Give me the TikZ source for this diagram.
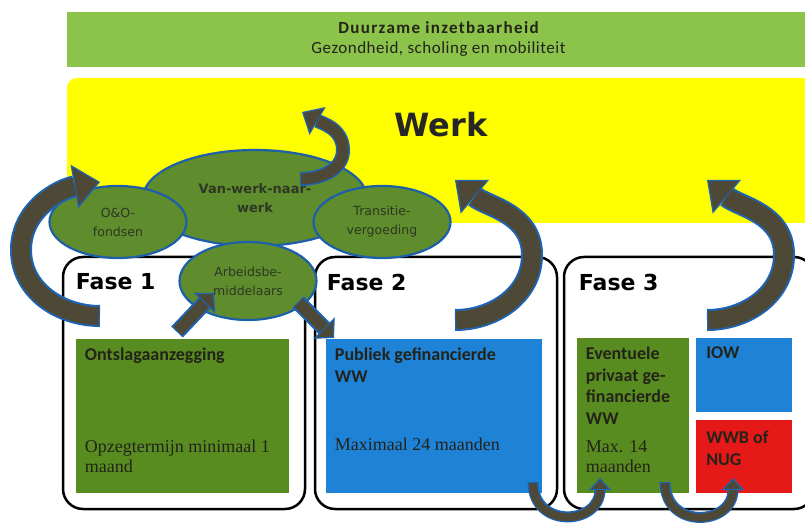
\documentclass[tikz,border=0pt]{standalone}
\usepackage{fontspec}
\setmainfont{Carlito}
\newfontfamily\wideface{DejaVu Sans}
\newfontfamily\serifface{Liberation Serif}
\usetikzlibrary{positioning,shapes.geometric,arrows.meta}
\definecolor{bandgreen}{RGB}{140,195,75}
\definecolor{werkyellow}{RGB}{255,255,0}
\definecolor{boxgreen}{RGB}{88,140,32}
\definecolor{boxblue}{RGB}{30,130,215}
\definecolor{boxred}{RGB}{230,25,25}
\definecolor{ellgreen}{RGB}{95,140,45}
\definecolor{ellblue}{RGB}{30,95,170}
\definecolor{elltext}{RGB}{45,55,35}
\definecolor{arrowblue}{RGB}{30,100,180}
\definecolor{arrowfill}{RGB}{78,72,54}
\definecolor{textdark}{RGB}{35,35,25}
\tikzset{
  fasebox/.style={draw=black, line width=2.5pt, rounded corners=20pt, minimum height=252pt, inner sep=0pt},
  fasetxt/.style={font=\wideface\bfseries\fontsize{22}{26}\selectfont, inner sep=0pt},
  fillbox/.style={inner sep=0pt, anchor=north west},
  boxtxt/.style={inner sep=0pt, align=left, text=textdark, font=\fontsize{18}{21.5}\selectfont\bfseries},
  durtxt/.style={inner sep=0pt, align=left, text=textdark, font=\serifface\fontsize{18}{20}\selectfont},
  ell/.style={ellipse, draw=ellblue, line width=2.2pt, fill=ellgreen, inner sep=0pt, align=center, text=elltext, font=\wideface\fontsize{12.5}{19}\selectfont},
  fatarrow/.style n args={4}{draw=arrowblue, line width=#1, -{Triangle[length=#3, width=#4, line width=1.2pt, fill=arrowfill]}, postaction={draw=arrowfill, line width=#2, -, shorten >=#3, shorten <=1.2pt}}
}
\begin{document}
\begin{tikzpicture}[x=1pt, y=1pt]
\useasboundingbox (0,0) rectangle (805,522);
% bands on top
\node[fill=bandgreen, minimum width=743pt, minimum height=55pt, inner sep=0pt, align=center, text=textdark, font=\fontsize{17}{20}\selectfont] (duurzaam) at (438.5,482.5) {{\bfseries\addfontfeature{LetterSpace=8}Duurzame inzetbaarheid}\\{\addfontfeature{LetterSpace=3}Gezondheid, scholing en mobiliteit}};
\node[fill=werkyellow, rounded corners=10pt, minimum width=748pt, minimum height=145pt, inner sep=0pt] (werkband) at (441,371.5) {};
\node[font=\wideface\bfseries\fontsize{32}{36}\selectfont, text=black!85, inner sep=0pt] (werk) at (441,397) {Werk};
% fases
\node[fasebox, minimum width=242pt] (fase1) at (184,139) {};
\node[fasebox, minimum width=242pt] (fase2) at (436,139) {};
\node[fasebox, minimum width=250pt] (fase3) at (689,139) {};
\node[fasetxt, below right=18pt and 14pt of fase1.north west] (f1lbl) {Fase 1};
\node[fasetxt, below right=18pt and 13pt of fase2.north west] (f2lbl) {Fase 2};
\node[fasetxt, below right=18pt and 16pt of fase3.north west] (f3lbl) {Fase 3};
% boxes
\node[fillbox, fill=boxgreen, minimum width=213pt, minimum height=154pt, below right=83pt and 14pt of fase1.north west] (ontslag) {};
\node[fillbox, fill=boxblue, minimum width=216pt, minimum height=154pt, below right=83pt and 12pt of fase2.north west] (publiek) {};
\node[fillbox, fill=boxgreen, minimum width=112pt, minimum height=155pt, below right=82pt and 14pt of fase3.north west] (eventueel) {};
\node[fillbox, fill=boxblue, minimum width=96pt, minimum height=74pt] (iow) at ([xshift=7pt]eventueel.north east) {};
\node[fillbox, fill=boxred, minimum width=96pt, minimum height=73pt] (wwb) at ([yshift=-8pt]iow.south west) {};
\node[boxtxt, below right=9pt and 9pt of ontslag.north west] (ontslagtxt) {Ontslagaanzegging};
\node[durtxt, above right=20pt and 9pt of ontslag.south west] (ontslagdur) {Opzegtermijn minimaal 1\\maand};
\node[boxtxt, below right=9pt and 9pt of publiek.north west] (publiektxt) {Publiek gefinancierde\\WW};
\node[durtxt, above right=42pt and 9pt of publiek.south west] (publiekdur) {Maximaal 24 maanden};
\node[boxtxt, below right=9pt and 9pt of eventueel.north west] (eventueeltxt) {Eventuele\\privaat ge-\\financierde\\WW};
\node[durtxt, above right=20pt and 9pt of eventueel.south west] (eventueeldur) {Max. 14\\maanden};
\node[boxtxt, below right=9pt and 10pt of iow.north west] (iowtxt) {IOW};
\node[boxtxt, below right=11pt and 10pt of wwb.north west, font=\fontsize{18}{22}\selectfont\bfseries] (wwbtxt) {WWB of\\NUG};
% ellipses
\node[ell, minimum width=224pt, minimum height=96pt, font=\wideface\bfseries\fontsize{13}{19}\selectfont] (vwnw) at (255,324) {Van-werk-naar-\\werk};
\node[ell, minimum width=137pt, minimum height=72pt] (oeno) at (118,300) {O\&O-\\fondsen};
\node[ell, minimum width=137pt, minimum height=72pt] (transitie) at (382,300) {Transitie-\\vergoeding};
\node[ell, minimum width=137pt, minimum height=78pt] (arbeid) at (248,241) {Arbeidsbe-\\middelaars};
% arrow ends
\coordinate (lt) at (100,206);
\coordinate (lh) at (100,340);
\coordinate (tt) at (300,343);
\coordinate (th) at (302,410);
\coordinate (ft2) at (455,202);
\coordinate (fh2) at (455,342);
\coordinate (ft3) at (707,202);
\coordinate (fh3) at (707,342);
\coordinate (in1) at (177,190);
\coordinate (in2) at (214,229);
\coordinate (uit1) at (298,220);
\coordinate (uit2) at (334,184);
\coordinate (ua) at (533,40);
\coordinate (ub) at (600,44);
\coordinate (uc) at (665,40);
\coordinate (ud) at (733,44);
% arrows
\draw[fatarrow={22pt}{18pt}{26pt}{44pt}] (lt) to[out=180,in=270] (21,272) to[out=90,in=190] (lh);
\draw[fatarrow={14pt}{11pt}{18pt}{32pt}] (tt) to[out=0,in=270] (343,372) to[out=90,in=-30] (th);
\draw[fatarrow={22pt}{18pt}{26pt}{44pt}] (ft2) to[out=0,in=270] (532,267) to[out=90,in=-40] (fh2);
\draw[fatarrow={22pt}{18pt}{26pt}{44pt}] (ft3) to[out=0,in=270] (784,267) to[out=90,in=-40] (fh3);
\draw[fatarrow={16pt}{12pt}{14pt}{30pt}] (in1) -- (in2);
\draw[fatarrow={16pt}{12pt}{14pt}{30pt}] (uit1) -- (uit2);
\draw[fatarrow={11pt}{8pt}{12pt}{22pt}] (ua) to[out=270,in=270,looseness=1.8] (ub);
\draw[fatarrow={11pt}{8pt}{12pt}{22pt}] (uc) to[out=270,in=270,looseness=1.8] (ud);
\end{tikzpicture}
\end{document}
